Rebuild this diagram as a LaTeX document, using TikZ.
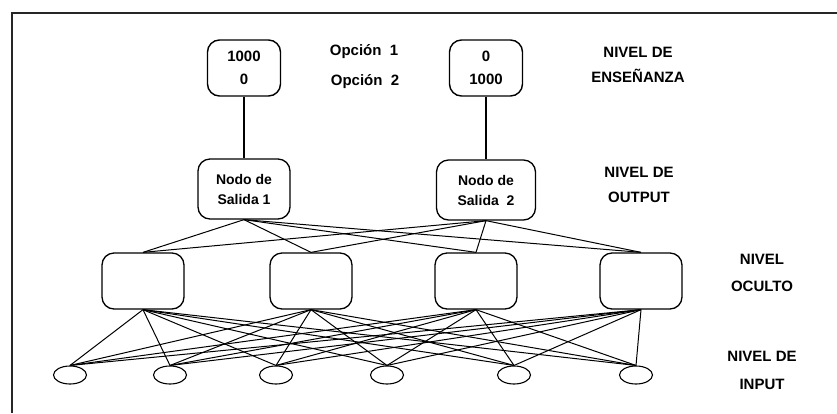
\documentclass[tikz,border=0pt]{standalone}
\usepackage{fontspec}
\setmainfont{Liberation Sans}
\usetikzlibrary{shapes.geometric}
\begin{document}
\begin{tikzpicture}[x=1pt,y=-1pt,
  font=\bfseries\fontsize{15}{23}\selectfont,
  teachbox/.style={draw,line width=1.4pt,rounded corners=12pt,minimum width=73pt,minimum height=56pt,align=center,inner sep=0pt},
  outbox/.style={draw,line width=1.3pt,rounded corners=12pt,minimum height=60pt,align=center,inner sep=0pt,font=\bfseries\fontsize{14}{20}\selectfont},
  hidbox/.style={draw,line width=1.3pt,rounded corners=12pt,minimum width=82pt,minimum height=56pt},
  inell/.style={draw,ellipse,line width=1.1pt,minimum width=33pt,minimum height=18pt,inner sep=0pt},
  lbl/.style={align=center,inner sep=0pt},
  link/.style={line width=1pt},
  frame/.style={line width=1.8pt,draw=black!85}]
\useasboundingbox (0,0) rectangle (837,413);
% frame (top and left edges)
\coordinate (fa) at (837,13);
\coordinate (fb) at (12,13);
\coordinate (fc) at (12,413);
\draw[frame] (fa) -- (fb) -- (fc);
% teaching level
\node[teachbox] (t1) at (244,68) {1000\\0};
\node[teachbox] (t2) at (486,68) {0\\1000};
\node[lbl] (op1) at (364,52) {Opción\ \ 1};
\node[lbl] (op2) at (365,82) {Opción\ \ 2};
\node[lbl,font=\bfseries\fontsize{15}{25}\selectfont] (lt) at (638,65) {NIVEL DE\\ENSEÑANZA};
% output level
\node[outbox,minimum width=92pt] (o1) at (244,189) {Nodo de\\Salida 1};
\node[outbox,minimum width=99pt] (o2) at (486,190) {Nodo de\\Salida\ \ 2};
\node[lbl,font=\bfseries\fontsize{15}{25}\selectfont] (lo) at (639,185) {NIVEL DE\\OUTPUT};
% hidden level
\node[hidbox] (h1) at (143,281) {};
\node[hidbox] (h2) at (311,281) {};
\node[hidbox] (h3) at (476,281) {};
\node[hidbox] (h4) at (641,281) {};
\node[lbl,font=\bfseries\fontsize{15}{27}\selectfont] (lh) at (762,273) {NIVEL\\OCULTO};
% input level
\node[inell] (i1) at (70,375) {};
\node[inell] (i2) at (170,375) {};
\node[inell] (i3) at (276,375) {};
\node[inell] (i4) at (387,375) {};
\node[inell] (i5) at (514,375) {};
\node[inell] (i6) at (636,375) {};
\node[lbl,font=\bfseries\fontsize{15}{28}\selectfont] (li) at (762,370) {NIVEL DE\\INPUT};
% connections
\draw[link,line width=1.4pt] (t1.south) -- (o1.north);
\draw[link,line width=1.4pt] (t2.south) -- (o2.north);
\foreach \o in {o1,o2}{
  \foreach \h in {h1,h2,h3,h4}{
    \draw[link] (\o.south) -- (\h.north);
  }
}
\foreach \h in {h1,h2,h3,h4}{
  \foreach \i in {i1,i2,i3,i4,i5,i6}{
    \draw[link] (\h.south) -- (\i.north);
  }
}
\end{tikzpicture}
\end{document}
